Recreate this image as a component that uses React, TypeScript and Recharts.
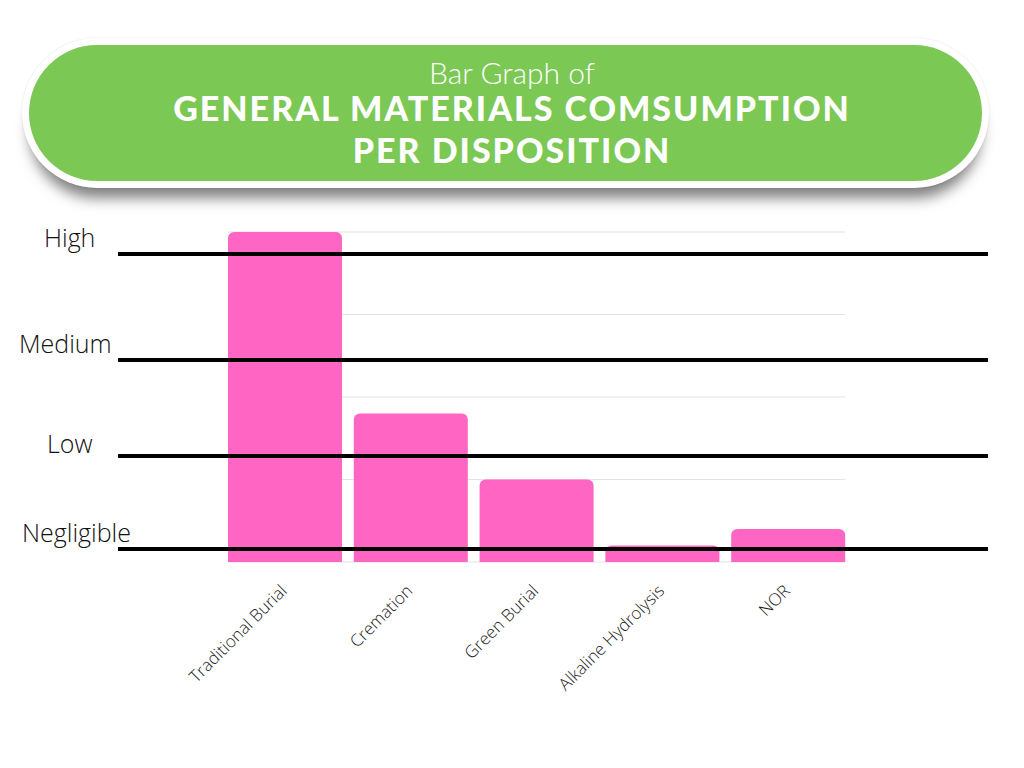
import React from 'react';
import { BarChart, Bar, XAxis, YAxis, CartesianGrid } from 'recharts';

const categories = ['Traditional Burial', 'Cremation', 'Green Burial', 'Alkaline Hydrolysis', 'NOR'];
const consumption = [100, 45, 25, 5, 10];
const yTicks = [0, 25, 50, 75, 100];
const levelLabels = ['High', 'Medium', 'Low', 'Negligible'];
const titleSmall = 'Bar Graph of';
const titleLines = ['GENERAL MATERIALS COMSUMPTION', 'PER DISPOSITION'];

const data = categories.map((name, i) => ({ name, value: consumption[i] }));

// decorative overlay placement (pixels)
const levelLineY = [252, 358, 454, 547];
const levelTextPos = [
  { left: 44, top: 220 },
  { left: 19, top: 326 },
  { left: 47, top: 426 },
  { left: 22, top: 515 },
];

const Tick = (props: any) => {
  const { x, y, payload } = props;
  return (
    <g transform={`translate(${x + 3},${y + 30})`}>
      <text
        textAnchor="end"
        transform="rotate(-45)"
        fill="#222222"
        fontSize={17}
        fontFamily="'Open Sans', sans-serif"
        fontWeight={300}
      >
        {payload.value}
      </text>
    </g>
  );
};

export default function App() {
  return (
    <div
      style={{
        position: 'absolute',
        left: 0,
        top: 0,
        width: 1024,
        height: 768,
        background: '#ffffff',
        overflow: 'hidden',
      }}
    >
      {/* Title pill */}
      <div
        style={{
          position: 'absolute',
          left: 22,
          top: 38,
          width: 967,
          height: 150,
          borderRadius: 75,
          background: '#ffffff',
          boxShadow: '0 0 2px rgba(0,0,0,0.12), 0 18px 14px -8px rgba(0,0,0,0.5)',
        }}
      >
        <div
          style={{
            position: 'absolute',
            left: 7,
            top: 7,
            right: 7,
            bottom: 7,
            borderRadius: 68,
            background: '#7BC855',
          }}
        />
      </div>
      <div
        style={{
          position: 'absolute',
          left: 0,
          top: 54,
          width: 1024,
          textAlign: 'center',
          color: '#ffffff',
          fontFamily: "Lato, 'Open Sans', sans-serif",
          fontWeight: 300,
          fontSize: 30,
          lineHeight: '36px',
        }}
      >
        {titleSmall}
      </div>
      {titleLines.map((t, i) => (
        <div
          key={t}
          style={{
            position: 'absolute',
            left: 0,
            top: 88 + i * 42,
            width: 1024,
            textAlign: 'center',
            color: '#ffffff',
            fontFamily: "Lato, 'Open Sans', sans-serif",
            fontWeight: 900,
            fontSize: 34,
            letterSpacing: 2,
            lineHeight: '40px',
          }}
        >
          {t}
        </div>
      ))}

      <div style={{ position: 'absolute', left: 0, top: 0 }}>
        <BarChart
          width={1024}
          height={768}
          data={data}
          margin={{ top: 232, right: 179, bottom: 106, left: 228 }}
          barCategoryGap={6}
        >
          <CartesianGrid vertical={false} stroke="#e2e2e2" strokeWidth={1} />
          <XAxis
            dataKey="name"
            height={100}
            axisLine={false}
            tickLine={false}
            tickSize={0}
            tickMargin={0}
            interval={0}
            padding={{ left: -6, right: -6 }}
            tick={<Tick />}
          />
          <YAxis hide domain={[0, 100]} ticks={yTicks} />
          <Bar dataKey="value" fill="#FF66C4" radius={[6, 6, 0, 0]} isAnimationActive={false} />
        </BarChart>
      </div>

      {/* Level lines and labels */}
      {levelLineY.map((y, i) => (
        <div
          key={'line' + i}
          style={{
            position: 'absolute',
            left: 118,
            top: y,
            width: 870,
            height: 4,
            background: '#000000',
          }}
        />
      ))}
      {levelLabels.map((l, i) => (
        <div
          key={l}
          style={{
            position: 'absolute',
            left: levelTextPos[i].left,
            top: levelTextPos[i].top,
            fontFamily: "'Open Sans', sans-serif",
            fontWeight: 300,
            fontSize: 25,
            lineHeight: '34px',
            color: '#111111',
          }}
        >
          {l}
        </div>
      ))}
    </div>
  );
}
